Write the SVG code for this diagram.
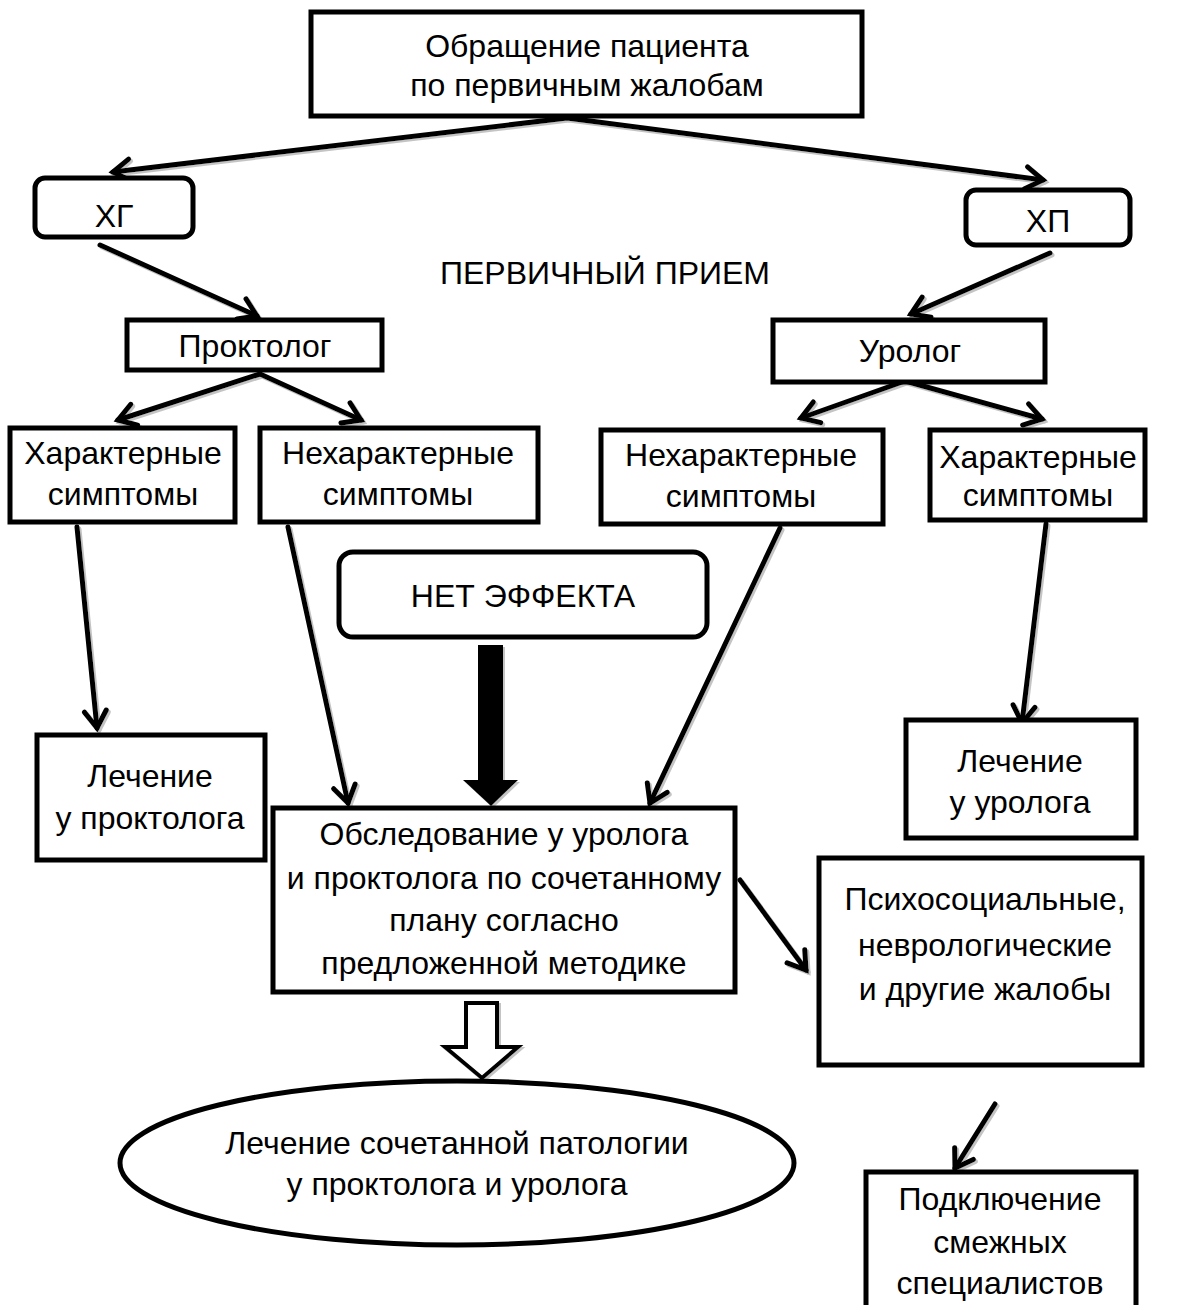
<svg xmlns="http://www.w3.org/2000/svg" width="1182" height="1305" viewBox="0 0 1182 1305">
<style>
.box{fill:#fff;stroke:#000;stroke-width:5}
.t{font-family:"Liberation Sans",Arial,sans-serif;font-size:32px;fill:#000;text-anchor:middle}
.c{fill:none;stroke:#000;stroke-width:5;stroke-linecap:round}
</style>
<defs>
<marker id="ah" markerUnits="userSpaceOnUse" markerWidth="40" markerHeight="40" viewBox="-25 -20 30 40" refX="0" refY="0" orient="auto" overflow="visible">
<path d="M-17,-11 L0,0 L-17,11" fill="none" stroke="#000" stroke-width="5" stroke-linecap="round" stroke-linejoin="miter"/>
</marker>
<filter id="sh" x="-10%" y="-10%" width="120%" height="120%">
<feDropShadow dx="2" dy="2" stdDeviation="0.6" flood-color="#888" flood-opacity="0.5"/>
</filter>
</defs>
<rect width="1182" height="1305" fill="#fff"/>
<g id="connectors" filter="url(#sh)">
<line class="c" x1="567" y1="118" x2="113" y2="172" marker-end="url(#ah)"/>
<line class="c" x1="567" y1="118" x2="1043" y2="180" marker-end="url(#ah)"/>
<line class="c" x1="100" y1="245" x2="257" y2="316" marker-end="url(#ah)"/>
<line class="c" x1="1050" y1="253" x2="911" y2="314" marker-end="url(#ah)"/>
<line class="c" x1="260" y1="374" x2="118" y2="420" marker-end="url(#ah)"/>
<line class="c" x1="260" y1="374" x2="361" y2="420" marker-end="url(#ah)"/>
<line class="c" x1="905" y1="381" x2="801" y2="418" marker-end="url(#ah)"/>
<line class="c" x1="905" y1="381" x2="1042" y2="419" marker-end="url(#ah)"/>
<line class="c" x1="77" y1="527" x2="97" y2="728" marker-end="url(#ah)"/>
<line class="c" x1="288" y1="527" x2="348" y2="803" marker-end="url(#ah)"/>
<line class="c" x1="780" y1="528" x2="650" y2="803" marker-end="url(#ah)"/>
<line class="c" x1="1046" y1="524" x2="1022" y2="723" marker-end="url(#ah)"/>
<line class="c" x1="740" y1="880" x2="806" y2="970" marker-end="url(#ah)"/>
<line class="c" x1="995" y1="1104" x2="955" y2="1168" marker-end="url(#ah)"/>
<polygon points="478,645 503,645 503,780 518,780 491,806 463,780 478,780" fill="#000"/>
<polygon points="466,1003 497,1003 497,1047 518,1047 482,1078 445,1047 466,1047" fill="#fff" stroke="#000" stroke-width="4"/>
</g>
<g id="n-top"><rect class="box" x="311" y="12" width="551" height="104"/>
<text class="t" x="587" y="57">Обращение пациента</text><text class="t" x="587" y="96">по первичным жалобам</text></g>
<g id="n-xg"><rect class="box" x="35" y="178" width="158" height="59" rx="10"/><text class="t" x="114" y="227">ХГ</text></g>
<g id="n-xp"><rect class="box" x="966" y="190" width="164" height="55" rx="10"/><text class="t" x="1048" y="232">ХП</text></g>
<g id="n-label"><text class="t" x="605" y="284">ПЕРВИЧНЫЙ ПРИЕМ</text></g>
<g id="n-procto"><rect class="box" x="127" y="320" width="255" height="50"/><text class="t" x="255" y="357">Проктолог</text></g>
<g id="n-uro"><rect class="box" x="773" y="320" width="272" height="62"/><text class="t" x="910" y="362">Уролог</text></g>
<g id="n-char-l"><rect class="box" x="10" y="428" width="225" height="94"/><text class="t" x="123" y="464">Характерные</text><text class="t" x="123" y="505">симптомы</text></g>
<g id="n-nechar-l"><rect class="box" x="260" y="428" width="278" height="94"/><text class="t" x="398" y="464">Нехарактерные</text><text class="t" x="398" y="505">симптомы</text></g>
<g id="n-nechar-r"><rect class="box" x="601" y="430" width="282" height="94"/><text class="t" x="741" y="466">Нехарактерные</text><text class="t" x="741" y="507">симптомы</text></g>
<g id="n-char-r"><rect class="box" x="930" y="430" width="215" height="90"/><text class="t" x="1038" y="468">Характерные</text><text class="t" x="1038" y="506">симптомы</text></g>
<g id="n-noeffect"><rect class="box" x="339" y="552" width="368" height="85" rx="14"/><text class="t" x="523" y="607">НЕТ ЭФФЕКТА</text></g>
<g id="n-treat-p"><rect class="box" x="37" y="735" width="228" height="125"/><text class="t" x="150" y="787">Лечение</text><text class="t" x="150" y="829">у проктолога</text></g>
<g id="n-exam"><rect class="box" x="273" y="808" width="462" height="184"/>
<text class="t" x="504" y="845">Обследование у уролога</text><text class="t" x="504" y="889">и проктолога по сочетанному</text><text class="t" x="504" y="931">плану согласно</text><text class="t" x="504" y="974">предложенной методике</text></g>
<g id="n-treat-u"><rect class="box" x="906" y="720" width="230" height="118"/><text class="t" x="1020" y="772">Лечение</text><text class="t" x="1020" y="813">у уролога</text></g>
<g id="n-psy"><rect class="box" x="819" y="858" width="323" height="207"/>
<text class="t" x="985" y="910">Психосоциальные,</text><text class="t" x="985" y="956">неврологические</text><text class="t" x="985" y="1000">и другие жалобы</text></g>
<g id="n-combined"><ellipse class="box" cx="457" cy="1163" rx="337" ry="82"/>
<text class="t" x="457" y="1154">Лечение сочетанной патологии</text><text class="t" x="457" y="1195">у проктолога и уролога</text></g>
<g id="n-spec"><rect class="box" x="866" y="1172" width="270" height="150"/>
<text class="t" x="1000" y="1210">Подключение</text><text class="t" x="1000" y="1253">смежных</text><text class="t" x="1000" y="1294">специалистов</text></g>
</svg>
